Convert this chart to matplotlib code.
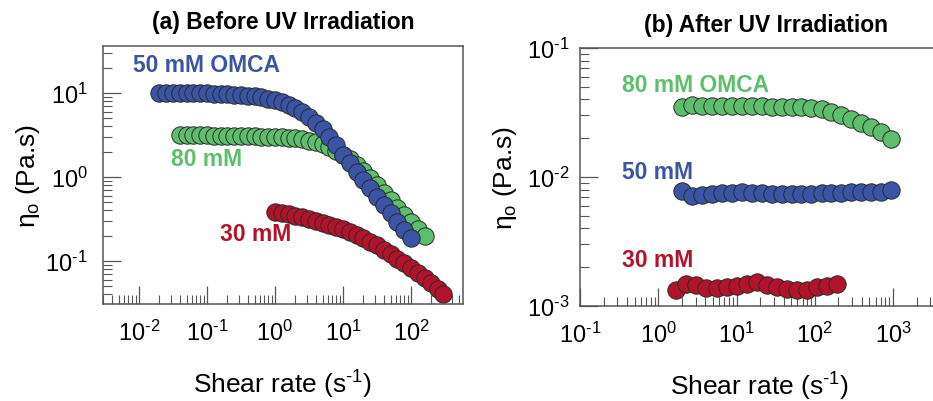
"""
Zero-shear viscosity of OMCA solutions before / after UV irradiation.
"""
import matplotlib
matplotlib.use("Agg")
import matplotlib.pyplot as plt
from matplotlib.ticker import FuncFormatter
import numpy as np

plt.rcParams["font.family"] = "Liberation Sans"
plt.rcParams["mathtext.fontset"] = "custom"
plt.rcParams["mathtext.rm"] = "Liberation Sans"
plt.rcParams["mathtext.it"] = "Liberation Sans:italic"
plt.rcParams["mathtext.bf"] = "Liberation Sans:bold"
plt.rcParams["axes.unicode_minus"] = False

# ---- (a) before UV ----
rate_50a = [0.02, 0.0251, 0.0316, 0.0398, 0.0501, 0.0631, 0.0794,
            0.1, 0.126, 0.158, 0.2, 0.251, 0.316, 0.398, 0.501, 0.631, 0.794,
            1.0, 1.26, 1.58, 2.0, 2.51, 3.16, 3.98, 5.01, 6.31, 7.94,
            10, 12.6, 15.8, 20, 25.1, 31.6, 39.8, 50.1, 63.1, 79.4, 100]
eta_50a = [10.1, 10.1, 10.1, 10.0, 10.0, 10.0, 9.95,
           9.9, 9.85, 9.8, 9.7, 9.6, 9.45, 9.3, 9.1, 8.9, 8.6,
           8.2, 7.8, 7.3, 6.7, 6.0, 5.2, 4.45, 3.7, 3.0, 2.4,
           1.85, 1.45, 1.16, 0.92, 0.73, 0.58, 0.46, 0.37, 0.295, 0.235, 0.19]

rate_80a = [0.0398, 0.0501, 0.0631, 0.0794,
            0.1, 0.126, 0.158, 0.2, 0.251, 0.316, 0.398, 0.501, 0.631, 0.794,
            1.0, 1.26, 1.58, 2.0, 2.51, 3.16, 3.98, 5.01, 6.31, 7.94,
            10, 12.6, 15.8, 20, 25.1, 31.6, 39.8, 50.1, 63.1, 79.4,
            100, 126, 158]
eta_80a = [3.15, 3.15, 3.15, 3.14,
           3.13, 3.12, 3.11, 3.1, 3.09, 3.08, 3.07, 3.05, 3.03, 3.0,
           3.0, 2.98, 2.95, 2.9, 2.82, 2.72, 2.6, 2.45, 2.25, 2.05,
           1.85, 1.62, 1.4, 1.18, 0.98, 0.8, 0.65, 0.53, 0.43, 0.35,
           0.29, 0.24, 0.2]

rate_30a = [1.0, 1.26, 1.58, 2.0, 2.51, 3.16, 3.98, 5.01, 6.31, 7.94,
            10, 12.6, 15.8, 20, 25.1, 31.6, 39.8, 50.1, 63.1, 79.4,
            100, 126, 158, 200, 251, 300]
eta_30a = [0.38, 0.37, 0.36, 0.345, 0.33, 0.315, 0.30, 0.285, 0.27, 0.255,
           0.24, 0.222, 0.205, 0.187, 0.17, 0.153, 0.137, 0.122, 0.107, 0.094,
           0.082, 0.071, 0.062, 0.054, 0.047, 0.041]

# ---- (b) after UV ----
rate_b = [2.0, 2.68, 3.59, 4.81, 6.46, 8.66, 11.6, 15.6, 20.9, 28.0, 37.6,
          50.4, 67.6, 90.7, 122, 163, 219, 293, 394, 528, 708, 950]
eta_80b = [0.035, 0.036, 0.0358, 0.0356, 0.0356, 0.0355, 0.0355, 0.0354,
           0.0353, 0.0352, 0.0351, 0.035, 0.0348, 0.0344, 0.0336, 0.0318,
           0.0302, 0.0283, 0.0263, 0.0243, 0.0222, 0.0197]
eta_50b = [0.0078, 0.0071, 0.0073, 0.0074, 0.0075, 0.0075, 0.0076, 0.0075,
           0.0075, 0.0074, 0.0074, 0.0074, 0.0074, 0.0074, 0.0075, 0.0075,
           0.0075, 0.0076, 0.0076, 0.0077, 0.0077, 0.0080]

rate_30b = [1.7, 2.28, 3.07, 4.13, 5.55, 7.46, 10.0, 13.5, 18.1, 24.4,
            32.8, 44.1, 59.3, 79.7, 107, 144, 190]
eta_30b = [0.00134, 0.00148, 0.00146, 0.00137, 0.00137, 0.0014, 0.00142,
           0.00148, 0.00153, 0.00146, 0.0014, 0.00135, 0.00133, 0.00134,
           0.0014, 0.00144, 0.00147]

BLUE = "#3A55A6"
GREEN = "#5DBE6B"
RED = "#B2132B"
SPINE = "#555555"


def decade_label(v, pos):
    # hyphen instead of the long minus, like the original figure
    e = int(round(np.log10(v)))
    return r"$\mathregular{10^{\text{%d}}}$" % e


fig = plt.figure(figsize=(9.33, 4.02), dpi=100)
ax1 = fig.add_axes([0.1104, 0.2413, 0.3859, 0.6418])
ax2 = fig.add_axes([0.6217, 0.2363, 0.3858, 0.6418])

mk = dict(marker="o", linestyle="none", markersize=12.5,
          markeredgecolor="#2a2a2a", markeredgewidth=0.7)

ax1.plot(rate_30a, eta_30a, color=RED, **mk)
ax1.plot(rate_80a, eta_80a, color=GREEN, **mk)
ax1.plot(rate_50a, eta_50a, color=BLUE, **mk)

ax2.plot(rate_30b, eta_30b, color=RED, **mk)
ax2.plot(rate_b, eta_50b, color=BLUE, **mk)
ax2.plot(rate_b, eta_80b, color=GREEN, **mk)

ax1.set_xlim(10 ** -2.529, 10 ** 2.765)
ax1.set_ylim(10 ** -1.512, 10 ** 1.56)
ax2.set_xlim(0.1, 10 ** 3.6)
ax2.set_ylim(1e-3, 1e-1)

for ax in (ax1, ax2):
    ax.set_xscale("log")
    ax.set_yscale("log")
    ax.xaxis.set_major_formatter(FuncFormatter(decade_label))
    ax.yaxis.set_major_formatter(FuncFormatter(decade_label))
    for s in ax.spines.values():
        s.set_color(SPINE)
        s.set_linewidth(1.1)
    ax.tick_params(which="both", direction="in", colors=SPINE,
                   labelcolor="black", labelsize=17, top=False, right=False)
    ax.tick_params(which="major", length=13, width=0.9)
    ax.tick_params(which="minor", length=6.5, width=0.8)
    ax.tick_params(axis="x", which="major", pad=11)
    ax.set_xlabel(r"Shear rate (s$^{\text{-1}}$)", fontsize=19, va="center")
    ax.set_ylabel(r"η$_{\mathregular{o}}$ (Pa.s)", fontsize=19, va="center")
    ax.xaxis.set_label_coords(0.5, -0.31)
    ax.yaxis.set_label_coords(-0.208, 0.5)

ax1.tick_params(axis="y", which="major", pad=11)
ax2.tick_params(axis="y", which="major", pad=8)

ax1.text(0.5, 1.093, "(a) Before UV Irradiation", transform=ax1.transAxes,
         ha="center", va="center", fontsize=16.5, fontweight="bold")
ax2.text(0.517, 1.093, "(b) After UV Irradiation", transform=ax2.transAxes,
         ha="center", va="center", fontsize=16.5, fontweight="bold")

lab = dict(fontsize=16.5, fontweight="bold", ha="left", va="center")
ax1.text(0.0082, 22, "50 mM OMCA", color=BLUE, **lab)
ax1.text(0.0295, 1.68, "80 mM", color=GREEN, **lab)
ax1.text(0.155, 0.215, "30 mM", color=RED, **lab)

ax2.text(0.345, 0.0517, "80 mM OMCA", color=GREEN, **lab)
ax2.text(0.345, 0.0111, "50 mM", color=BLUE, **lab)
ax2.text(0.345, 0.00231, "30 mM", color=RED, **lab)

fig.savefig("out.png", dpi=100)
